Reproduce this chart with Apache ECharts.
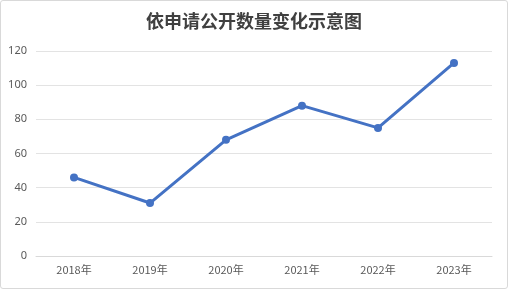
<!DOCTYPE html>
<html><head><meta charset="utf-8">
<script src="https://cdn.jsdelivr.net/npm/echarts@6/dist/echarts.min.js"></script>
<style>html,body{margin:0;padding:0;background:#fff}#c{width:506px;height:287px;border:1px solid #d9d9d9;border-radius:3px}</style>
</head><body><div id="c"></div>
<script>
const categories = ['2018年','2019年','2020年','2021年','2022年','2023年'];
const values = [46, 31, 68, 88, 75, 113];
const titleText = '依申请公开数量变化示意图';
const chart = echarts.init(document.getElementById('c'), null, {renderer:'canvas'});
chart.setOption({
  animation:false,
  title:{text:titleText,left:'center',top:6,textStyle:{fontFamily:'Noto Sans CJK SC',fontSize:18,fontWeight:'bold',color:'#404040'}},
  grid:{left:35,right:15,top:50,bottom:32,containLabel:false},
  xAxis:{type:'category',data:categories,boundaryGap:true,
    axisLine:{lineStyle:{color:'#d9d9d9'}},axisTick:{show:false},
    axisLabel:{color:'#595959',fontSize:11,fontFamily:'Noto Sans CJK SC',margin:8}},
  yAxis:{type:'value',min:0,max:120,interval:20,
    axisLine:{show:false},axisTick:{show:false},
    splitLine:{lineStyle:{color:'#e3e3e3'}},
    axisLabel:{color:'#595959',fontSize:11,fontFamily:'Noto Sans',margin:9}},
  series:[{type:'line',data:values,symbol:'circle',symbolSize:8,
    lineStyle:{color:'#4472c4',width:3},itemStyle:{color:'#4472c4'}}]
});
</script></body></html>
